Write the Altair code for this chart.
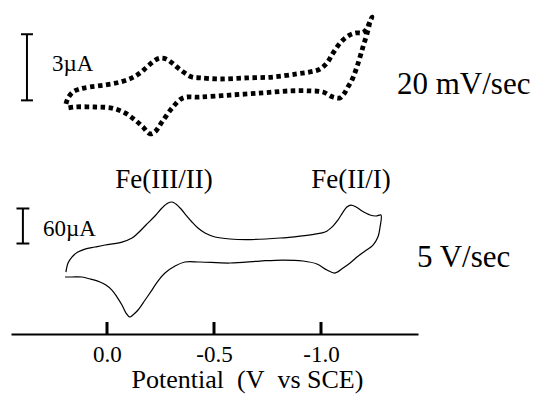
import altair as alt
import pandas as pd

# ---- 20 mV/sec trace (potential in V, current in uA) ----
top_fwd_v = [0.192, 0.182, 0.159, 0.126, 0.079, 0.009, -0.061, -0.117, -0.154, -0.187,
             -0.220, -0.248, -0.276, -0.304, -0.332, -0.364, -0.397, -0.435, -0.528, -0.654,
             -0.776, -0.888, -0.949, -0.995, -1.028, -1.051, -1.075, -1.103, -1.136, -1.164,
             -1.192, -1.210, -1.224, -1.238]
top_fwd_i = [-0.06, 0.21, 0.48, 0.62, 0.71, 0.80, 0.93, 1.12, 1.34, 1.62,
             1.89, 2.02, 1.98, 1.80, 1.57, 1.34, 1.16, 1.12, 1.07, 1.12,
             1.16, 1.30, 1.39, 1.52, 1.80, 2.16, 2.52, 2.84, 3.07, 3.16,
             3.16, 3.29, 3.57, 3.88]
top_rev_v = [-1.229, -1.220, -1.196, -1.168, -1.145, -1.126, -1.107, -1.089, -1.056, -1.009,
             -0.949, -0.855, -0.729, -0.575, -0.435, -0.355, -0.304, -0.257, -0.224, -0.201,
             -0.168, -0.131, -0.084, -0.023, 0.056, 0.150, 0.187]
top_rev_i = [3.66, 3.29, 2.52, 1.62, 1.03, 0.71, 0.39, 0.21, 0.25, 0.48,
             0.53, 0.53, 0.44, 0.34, 0.25, 0.21, -0.25, -0.88, -1.33, -1.42,
             -1.11, -0.79, -0.47, -0.25, -0.20, -0.20, -0.25]

# ---- 5 V/sec trace (potential in V, current in uA) ----
bot_fwd_v = [0.192, 0.182, 0.164, 0.136, 0.103, 0.056, 0.009, -0.070, -0.117, -0.145,
             -0.182, -0.224, -0.257, -0.285, -0.304, -0.322, -0.346, -0.369, -0.397, -0.425,
             -0.458, -0.505, -0.575, -0.668, -0.808, -0.902, -0.972, -1.019, -1.056, -1.079,
             -1.103, -1.121, -1.140, -1.164, -1.192, -1.229, -1.257, -1.280]
bot_fwd_i = [-43.9, -28.4, -18.2, -9.6, -4.5, -1.0, 2.4, 7.5, 14.4, 23.0,
             36.7, 52.1, 65.8, 74.3, 76.1, 72.6, 64.1, 53.8, 41.8, 31.5,
             22.9, 16.1, 12.7, 11.8, 14.4, 17.8, 21.2, 24.7, 34.9, 45.2,
             58.9, 67.5, 70.9, 67.5, 60.6, 53.8, 52.1, 53.8]
bot_rev_v = [-1.276, -1.266, -1.243, -1.206, -1.168, -1.136, -1.103, -1.065, -1.028, -0.981,
             -0.916, -0.822, -0.715, -0.575, -0.435, -0.364, -0.318, -0.271, -0.238, -0.210,
             -0.178, -0.145, -0.121, -0.107, -0.089, -0.070, -0.047, -0.023, 0.005, 0.033,
             0.079, 0.117, 0.164, 0.196]
bot_rev_i = [33.2, 16.1, 2.4, -7.9, -18.2, -28.4, -37.0, -45.6, -40.4, -30.1,
             -25.0, -23.3, -25.0, -28.4, -26.7, -26.7, -33.6, -45.6, -59.3, -74.7,
             -91.8, -108.9, -117.5, -120.9, -114.1, -100.4, -86.7, -74.7, -66.1, -61.0,
             -55.8, -52.4, -52.4, -52.4]

tick_values = [0.0, -0.5, -1.0]
tick_labels = ["0.0", "-0.5", "-1.0"]

# scale bars: potential position, current from/to (uA)
bar_top = {"v": 0.374, "lo": 0.1, "hi": 3.1, "half": 0.028}
bar_bot = {"v": 0.393, "lo": 5.0, "hi": 65.0, "half": 0.03}

FONT = "Liberation Serif, Times New Roman, serif"


def trace(fv, fi, rv, ri):
    v = fv + rv
    i = fi + ri
    return pd.DataFrame({"v": v, "i": i, "idx": list(range(len(v)))})


df_top = trace(top_fwd_v, top_fwd_i, top_rev_v, top_rev_i)
df_bot = trace(bot_fwd_v, bot_fwd_i, bot_rev_v, bot_rev_i)

label_expr = "".join(
    f"abs(datum.value - ({v})) < 1e-6 ? '{l}' : " for v, l in zip(tick_values, tick_labels)
) + "''"

xscale = alt.Scale(domain=[-1.4533, 0.4486], reverse=True, nice=False, zero=False)
xaxis = alt.Axis(values=tick_values, labelExpr=label_expr, ticks=False, tickSize=0,
                 grid=False, domainColor="black", domainWidth=2,
                 labelFont=FONT, labelFontSize=23, labelColor="black",
                 labelPadding=27, labelBaseline="alphabetic",
                 title="Potential\u00a0\u00a0(V\u00a0\u00a0vs SCE)", titleFont=FONT,
                 titleFontSize=26, titleFontWeight="normal", titleColor="black",
                 titleX=236, titleY=53, titleBaseline="alphabetic", titleAlign="center")
ytop = alt.Scale(domain=[-10.5, 4.2], nice=False, zero=False)
ybot = alt.Scale(domain=[-150, 405], nice=False, zero=False)


def X(field="v"):
    return alt.X(f"{field}:Q", scale=xscale, axis=xaxis)


top_line = alt.Chart(df_top).mark_line(
    color="black", strokeWidth=4.8, strokeDash=[4.5, 3.5], strokeCap="butt",
    interpolate="catmull-rom"
).encode(x=X(), y=alt.Y("i:Q", scale=ytop, axis=None), order="idx:Q")

bot_line = alt.Chart(df_bot).mark_line(
    color="black", strokeWidth=1.2, interpolate="catmull-rom"
).encode(x=X(), y=alt.Y("i:Q", scale=ybot, axis=None), order="idx:Q")


def scale_bar(b, yscale):
    d = pd.DataFrame([{"v": b["v"], "lo": b["lo"], "hi": b["hi"]}])
    caps = pd.DataFrame({"v": [b["v"] + b["half"]] * 2, "v2": [b["v"] - b["half"]] * 2,
                         "i": [b["lo"], b["hi"]]})
    bar = alt.Chart(d).mark_rule(color="black", strokeWidth=2).encode(
        x=X(), y=alt.Y("lo:Q", scale=yscale, axis=None), y2="hi:Q")
    cap = alt.Chart(caps).mark_rule(color="black", strokeWidth=2).encode(
        x=X(), x2="v2:Q", y=alt.Y("i:Q", scale=yscale, axis=None))
    return bar + cap


ticks = alt.Chart(pd.DataFrame({"v": tick_values})).mark_rule(
    color="black", strokeWidth=3).encode(x=X(), y=alt.value(312), y2=alt.value(324))


def label(text, x, y, size, align="left"):
    return alt.Chart(alt.Data(values=[{"t": text}])).mark_text(
        font=FONT, fontSize=size, color="black", align=align, baseline="alphabetic"
    ).encode(x=alt.value(x), y=alt.value(y), text="t:N")


labels = [
    label("3\u00b5A", 41, 61, 23),
    label("20 mV/sec", 386, 84, 31),
    label("Fe(III/II)", 153, 178, 27, "center"),
    label("Fe(II/I)", 340, 178, 27, "center"),
    label("60\u00b5A", 32, 226, 23),
    label("5 V/sec", 406, 257, 31),
]

chart = alt.layer(
    top_line, bot_line, scale_bar(bar_top, ytop), scale_bar(bar_bot, ybot), ticks, *labels
).resolve_scale(y="independent").properties(
    width=407, height=324,
    padding={"left": 3, "top": 2, "right": 130, "bottom": 61},
    autosize="none",
).configure_view(stroke=None).configure_axis(
    labelFont=FONT, titleFont=FONT
).configure_text(font=FONT)

chart.save("out.html", embed_options={"renderer": "svg", "actions": False})
